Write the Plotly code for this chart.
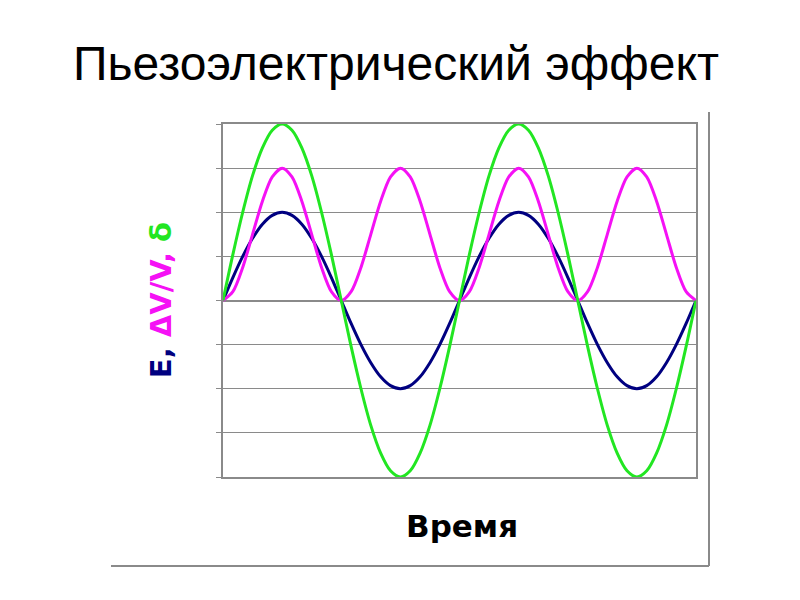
import plotly.graph_objects as go

# phase, degrees (two full periods)
phase = [0, 15, 30, 45, 60, 75, 90, 105, 120, 135, 150, 165, 180,
         195, 210, 225, 240, 255, 270, 285, 300, 315, 330, 345, 360,
         375, 390, 405, 420, 435, 450, 465, 480, 495, 510, 525, 540,
         555, 570, 585, 600, 615, 630, 645, 660, 675, 690, 705, 720]

# deformation (green)
delta = [0, 1.04, 2.00, 2.83, 3.46, 3.86, 4.00, 3.86, 3.46, 2.83, 2.00, 1.04, 0,
         -1.04, -2.00, -2.83, -3.46, -3.86, -4.00, -3.86, -3.46, -2.83, -2.00, -1.04, 0,
         1.04, 2.00, 2.83, 3.46, 3.86, 4.00, 3.86, 3.46, 2.83, 2.00, 1.04, 0,
         -1.04, -2.00, -2.83, -3.46, -3.86, -4.00, -3.86, -3.46, -2.83, -2.00, -1.04, 0]

# field E (navy)
field = [0, 0.52, 1.00, 1.41, 1.73, 1.93, 2.00, 1.93, 1.73, 1.41, 1.00, 0.52, 0,
         -0.52, -1.00, -1.41, -1.73, -1.93, -2.00, -1.93, -1.73, -1.41, -1.00, -0.52, 0,
         0.52, 1.00, 1.41, 1.73, 1.93, 2.00, 1.93, 1.73, 1.41, 1.00, 0.52, 0,
         -0.52, -1.00, -1.41, -1.73, -1.93, -2.00, -1.93, -1.73, -1.41, -1.00, -0.52, 0]

# relative volume change dV/V (magenta)
dvv = [0, 0.20, 0.75, 1.50, 2.25, 2.80, 3.00, 2.80, 2.25, 1.50, 0.75, 0.20, 0,
       0.20, 0.75, 1.50, 2.25, 2.80, 3.00, 2.80, 2.25, 1.50, 0.75, 0.20, 0,
       0.20, 0.75, 1.50, 2.25, 2.80, 3.00, 2.80, 2.25, 1.50, 0.75, 0.20, 0,
       0.20, 0.75, 1.50, 2.25, 2.80, 3.00, 2.80, 2.25, 1.50, 0.75, 0.20, 0]

GREEN = "#22e622"
MAGENTA = "#f511f5"
NAVY = "#000080"
GREY = "#8a8a8a"
BOLD_FONT = "DejaVu Sans, Verdana, sans-serif"

fig = go.Figure()
for ys, col in [(field, NAVY), (dvv, MAGENTA), (delta, GREEN)]:
    fig.add_trace(go.Scatter(x=phase, y=ys, mode="lines",
                             line=dict(color=col, width=3, shape="spline", smoothing=0.8)))

# page body adds ~8px offset, so margins are shifted up/left to compensate
fig.update_layout(
    width=800, height=600, autosize=False,
    paper_bgcolor="white", plot_bgcolor="white",
    showlegend=False,
    margin=dict(l=215, r=112, t=116, b=131, pad=0),
    font=dict(family="Liberation Sans, Arial, sans-serif", color="black"),
    title=dict(text="Пьезоэлектрический эффект", x=0.485, xanchor="center",
               y=0.908, yanchor="middle", font=dict(size=48)),
)
fig.update_xaxes(range=[0, 720], showgrid=False, zeroline=False,
                 showticklabels=False, ticks="",
                 showline=True, mirror=True, linecolor=GREY, linewidth=1.5)
fig.update_yaxes(range=[-4, 4], dtick=1, showgrid=True, gridcolor=GREY,
                 gridwidth=1, zeroline=True, zerolinecolor=GREY, zerolinewidth=1.5,
                 showticklabels=False, ticks="outside", ticklen=5,
                 tickcolor=GREY, showline=True, mirror=True,
                 linecolor=GREY, linewidth=1.5)

# y-axis label, coloured per quantity
ylabel = (f"<b><span style='color:{NAVY}'>E,</span> "
          f"<span style='color:{MAGENTA}'>ΔV/V,</span> "
          f"<span style='color:{GREEN}'>δ</span></b>")
fig.add_annotation(text=ylabel, xref="paper", yref="paper", x=-0.131, y=0.501,
                   textangle=-90, showarrow=False,
                   font=dict(size=29, family=BOLD_FONT),
                   xanchor="center", yanchor="middle")
fig.add_annotation(text="<b>Время</b>", xref="paper", yref="paper",
                   x=0.505, y=-0.139, showarrow=False,
                   font=dict(size=31, family=BOLD_FONT),
                   xanchor="center", yanchor="middle")

# outer frame (right and bottom lines)
fig.add_shape(type="line", xref="paper", yref="paper", x0=1.0275, x1=1.0275,
              y0=-0.252, y1=1.034, line=dict(color=GREY, width=2))
fig.add_shape(type="line", xref="paper", yref="paper", x0=-0.2368, x1=1.0275,
              y0=-0.252, y1=-0.252, line=dict(color=GREY, width=2))

fig.write_html("out.html")
